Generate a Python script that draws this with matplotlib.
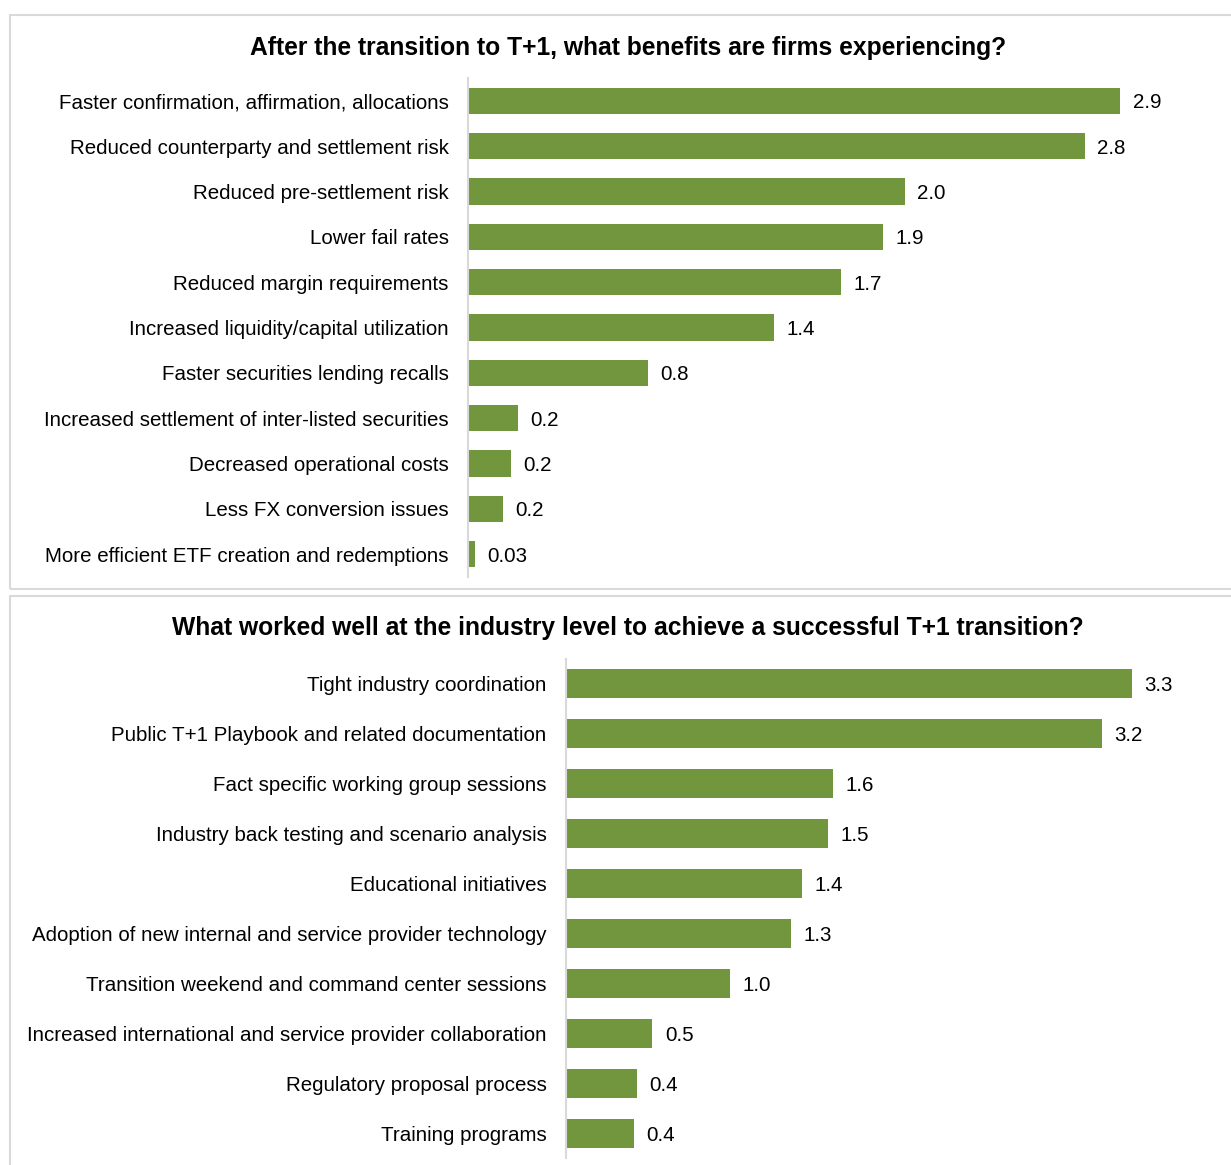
import matplotlib.pyplot as plt
from matplotlib.patches import Rectangle

plt.rcParams['font.family'] = ['Liberation Sans', 'DejaVu Sans']

# top chart: benefits after T+1
benefit_names = ['Faster confirmation, affirmation, allocations',
                 'Reduced counterparty and settlement risk',
                 'Reduced pre-settlement risk',
                 'Lower fail rates',
                 'Reduced margin requirements',
                 'Increased liquidity/capital utilization',
                 'Faster securities lending recalls',
                 'Increased settlement of inter-listed securities',
                 'Decreased operational costs',
                 'Less FX conversion issues',
                 'More efficient ETF creation and redemptions']
benefit_values = [2.94, 2.78, 1.97, 1.87, 1.68, 1.38, 0.81, 0.225, 0.194, 0.158, 0.032]
benefit_labels = ['2.9', '2.8', '2.0', '1.9', '1.7', '1.4', '0.8', '0.2', '0.2', '0.2', '0.03']

# bottom chart: what worked well
worked_names = ['Tight industry coordination',
                'Public T+1 Playbook and related documentation',
                'Fact specific working group sessions',
                'Industry back testing and scenario analysis',
                'Educational initiatives',
                'Adoption of new internal and service provider technology',
                'Transition weekend and command center sessions',
                'Increased international and service provider collaboration',
                'Regulatory proposal process',
                'Training programs']
worked_values = [3.34, 3.16, 1.575, 1.546, 1.39, 1.33, 0.97, 0.51, 0.42, 0.40]
worked_labels = ['3.3', '3.2', '1.6', '1.5', '1.4', '1.3', '1.0', '0.5', '0.4', '0.4']

W, H = 1231, 1165
fig = plt.figure(figsize=(W / 100, H / 100), dpi=100)
green = '#71963d'
grey = '#d9d9d9'
fs = 14.8


def px_axes(x0, y0, x1, y1):
    # pixel box (top-left origin) -> figure axes
    return fig.add_axes([x0 / W, 1 - y1 / H, (x1 - x0) / W, (y1 - y0) / H])


def draw_panel(ax, names, values, labels, xmax):
    pos = list(range(len(names)))
    bars = ax.barh(pos, values, height=0.58, color=green)
    for b, lab in zip(bars, labels):
        ax.annotate(lab, (b.get_width(), b.get_y() + b.get_height() / 2),
                    xytext=(9, 0), textcoords='offset points',
                    ha='left', va='center_baseline', fontsize=fs)
    ax.set_yticks(pos)
    ax.set_yticklabels(names, fontsize=fs)
    ax.set_ylim(len(names) - 0.5, -0.5)
    ax.set_xlim(0, xmax)
    ax.set_xticks([])
    ax.tick_params(axis='y', length=0, pad=14)
    for s in ['top', 'right', 'bottom']:
        ax.spines[s].set_visible(False)
    ax.spines['left'].set_color(grey)
    ax.spines['left'].set_linewidth(1.5)


# panel frames
fig.patches.append(Rectangle((10 / W, 1 - 589 / H), 1240 / W, 574 / H,
                             transform=fig.transFigure, fill=False,
                             edgecolor=grey, lw=1.5))
fig.patches.append(Rectangle((10 / W, 1 - 1180 / H), 1240 / W, 584 / H,
                             transform=fig.transFigure, fill=False,
                             edgecolor=grey, lw=1.5))

ax1 = px_axes(468, 78, 1200, 577)
draw_panel(ax1, benefit_names, benefit_values, benefit_labels, 3.3)
fig.text(628 / W, 1 - 48 / H, 'After the transition to T+1, what benefits are firms experiencing?',
         ha='center', va='center', fontsize=17.7, fontweight='bold')

ax2 = px_axes(566, 659, 1210, 1158)
draw_panel(ax2, worked_names, worked_values, worked_labels, 3.8)
fig.text(628 / W, 1 - 628 / H, 'What worked well at the industry level to achieve a successful T+1 transition?',
         ha='center', va='center', fontsize=17.7, fontweight='bold')

fig.savefig('out.png', dpi=100)
